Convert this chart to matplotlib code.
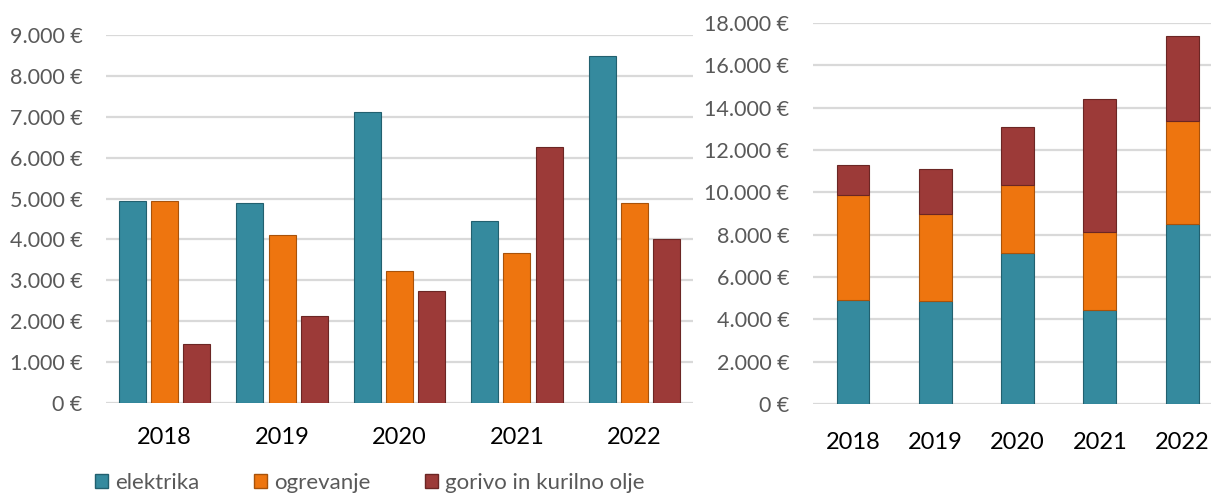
import numpy as np
import matplotlib.pyplot as plt
from matplotlib.ticker import FuncFormatter
from matplotlib.patches import Patch

plt.rcParams['font.family'] = ['Lato', 'DejaVu Sans']

# data
years = ['2018', '2019', '2020', '2021', '2022']
series = ['elektrika', 'ogrevanje', 'gorivo in kurilno olje']
elektrika = [4930, 4880, 7120, 4440, 8490]
ogrevanje = [4930, 4100, 3220, 3680, 4880]
gorivo = [1450, 2120, 2730, 6270, 4020]

colors = ['#358A9E', '#EE750F', '#9C3A38']
edges = ['#22606F', '#A8520A', '#6B2624']
grid_c = '#D9D9D9'
label_c = '#595959'

def euro(v, pos):
    return '{:,.0f} €'.format(v).replace(',', '.')

fig = plt.figure(figsize=(12.11, 4.96), dpi=100)

def style(ax, top):
    ax.set_ylim(0, top)
    ax.yaxis.set_major_formatter(FuncFormatter(euro))
    for s in ax.spines.values():
        s.set_visible(False)
    ax.grid(axis='y', color=grid_c, linewidth=1.6)
    ax.set_axisbelow(True)
    ax.tick_params(axis='y', length=0, pad=17, labelsize=15.5, labelcolor=label_c)
    ax.tick_params(axis='x', length=0, pad=17, labelsize=17, labelcolor='black')

# left: grouped bars
ax1 = fig.add_axes([106/1211, 93/496, 587/1211, 368/496])
x = np.arange(len(years))
w = 0.23
off = 0.275
data = [elektrika, ogrevanje, gorivo]
for i, vals in enumerate(data):
    ax1.bar(x + (i - 1) * off, vals, width=w, color=colors[i],
            edgecolor=edges[i], linewidth=0.8)
ax1.set_xlim(-0.5, len(years) - 0.5)
ax1.set_xticks(x)
ax1.set_xticklabels(years)
ax1.set_yticks(np.arange(0, 9001, 1000))
style(ax1, 9000)

# right: stacked bars
ax2 = fig.add_axes([813/1211, 92/496, 398/1211, 381/496])
bottom = np.zeros(len(years))
for i, vals in enumerate(data):
    ax2.bar(x, vals, width=0.4, bottom=bottom, color=colors[i],
            edgecolor=edges[i], linewidth=0.8)
    bottom += np.array(vals)
ax2.set_xlim(-0.486, 4.35)
ax2.set_xticks(x)
ax2.set_xticklabels(years)
ax2.set_yticks(np.arange(0, 18001, 2000))
style(ax2, 18000)
ax2.tick_params(axis='x', pad=20)

handles = [Patch(facecolor=colors[i], edgecolor=edges[i], label=series[i]) for i in range(3)]
fig.legend(handles=handles, loc='center left', bbox_to_anchor=(95/1211, 1 - 483/496),
           ncol=3, frameon=False, fontsize=16, labelcolor=label_c,
           borderaxespad=0, borderpad=0,
           handlelength=0.6, handleheight=0.6, handletextpad=0.3, columnspacing=2.45)

fig.savefig('out.png', dpi=100)
